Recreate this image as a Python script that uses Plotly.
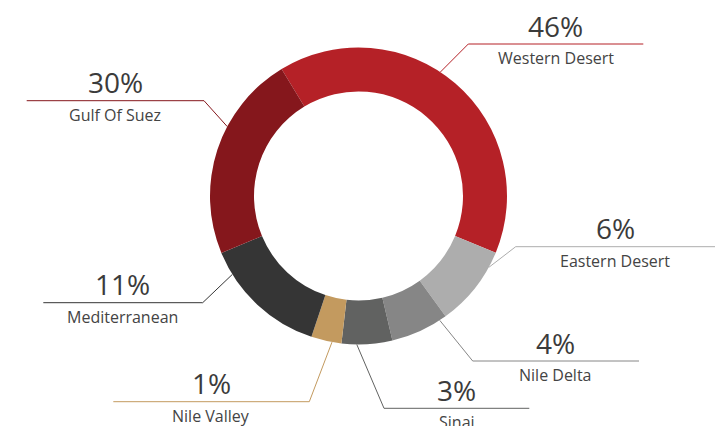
import math
import plotly.graph_objects as go

# ---- data ----
regions = ["Western Desert", "Eastern Desert", "Nile Delta", "Sinai",
           "Nile Valley", "Mediterranean", "Gulf Of Suez"]
share_pct = [46, 6, 4, 3, 1, 11, 30]                 # printed percentages
slice_sizes = [39.9, 8.8, 6.3, 5.5, 3.3, 13.6, 22.6]  # arc sizes as drawn
colors = ["#b52127", "#adadad", "#868686", "#616261",
          "#c39a5f", "#353535", "#85171c"]

# ---- layout (pixels) ----
W, H = 715, 426
CX, CY, R_OUT, R_IN = 358.5, 196.0, 148.5, 104.5
ROTATION = -31.2
# where along each slice the leader starts, elbow point, and far end of the rule
leader_frac = [0.45, 0.20, 0.12, 0.70, 0.31, 0.81, 0.62]
elbows = [(468.3, 44.0), (515.7, 246.7), (472.7, 361.0), (384.0, 408.3),
          (309.3, 401.7), (202.7, 302.7), (204.0, 100.7)]
rule_end_x = [643.3, 715.0, 639.0, 529.3, 113.3, 43.3, 26.7]


def px(x):
    return x / W


def py(y):
    return 1 - y / H


fig = go.Figure(go.Pie(
    labels=regions,
    values=slice_sizes,
    hole=R_IN / R_OUT,
    sort=False,
    direction="clockwise",
    rotation=ROTATION,
    marker=dict(colors=colors, line=dict(width=0)),
    textinfo="none",
    hoverinfo="label",
    showlegend=False,
    domain=dict(x=[px(CX - R_OUT), px(CX + R_OUT)],
                y=[py(CY + R_OUT), py(CY - R_OUT)]),
))

total = sum(slice_sizes)
start = ROTATION
shapes, annotations = [], []
for i, name in enumerate(regions):
    span = slice_sizes[i] / total * 360.0
    ang = math.radians(start + leader_frac[i] * span)
    start += span
    sx = CX + R_OUT * math.sin(ang)
    sy = CY - R_OUT * math.cos(ang)
    ex, ey = elbows[i]
    fx = rule_end_x[i]
    shapes.append(dict(
        type="path", xref="paper", yref="paper",
        path=f"M {px(sx)},{py(sy)} L {px(ex)},{py(ey)} L {px(fx)},{py(ey)}",
        line=dict(color=colors[i], width=1),
    ))
    mid = (ex + fx) / 2
    annotations.append(dict(
        x=px(mid), y=py(ey), xref="paper", yref="paper",
        text=f"{share_pct[i]}%", showarrow=False,
        xanchor="center", yanchor="middle", yshift=18.5,
        font=dict(family="Open Sans", size=28, color="#3b3b3b"),
    ))
    annotations.append(dict(
        x=px(mid), y=py(ey), xref="paper", yref="paper",
        text=name, showarrow=False,
        xanchor="center", yanchor="middle", yshift=-14,
        font=dict(family="Open Sans", size=16, color="#444444"),
    ))

fig.update_layout(
    width=W, height=H, autosize=False,
    margin=dict(l=0, r=0, t=0, b=0),
    paper_bgcolor="white", plot_bgcolor="white",
    shapes=shapes, annotations=annotations,
)

fig.write_html("out.html", config={"displayModeBar": False},
               post_script="document.body.style.margin='0';")
